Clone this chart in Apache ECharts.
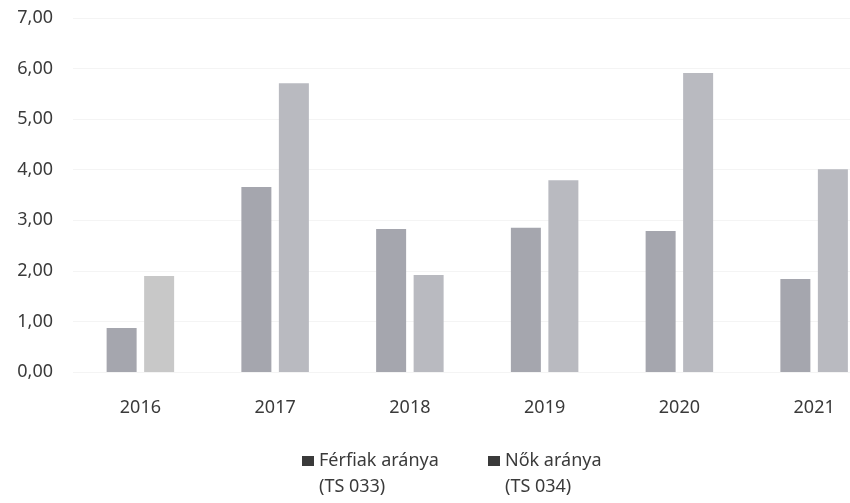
<!DOCTYPE html>
<html>
<head>
<meta charset="utf-8">
<script src="https://cdn.jsdelivr.net/npm/echarts@6/dist/echarts.min.js"></script>
<style>
  html, body { margin: 0; padding: 0; background: #fff; }
  #chart { width: 850px; height: 503px; }
</style>
</head>
<body>
<div id="chart"></div>
<script>
var years = ['2016', '2017', '2018', '2019', '2020', '2021'];
var ferfiak = [0.87, 3.66, 2.83, 2.85, 2.79, 1.84];
var nok = [1.90, 5.71, 1.92, 3.79, 5.91, 4.01];
var seriesNames = ['Férfiak aránya', 'Nők aránya'];
var seriesCodes = ['(TS 033)', '(TS 034)'];

var font = 'Noto Sans';

// square at the top of a taller box, so it sits beside the first text line
var topSquare = 'path://M0,0H12V10H0Z M0,36L0.001,36';

function legendFor(i, left) {
  return {
    left: left,
    top: 448,
    padding: 0,
    icon: topSquare,
    itemWidth: 12,
    itemHeight: 36,
    selectedMode: false,
    data: [{ name: seriesNames[i], itemStyle: { color: '#3a3a3a' } }],
    formatter: function (name) {
      return name + '\n' + seriesCodes[i];
    },
    textStyle: {
      fontFamily: font,
      fontSize: 18,
      lineHeight: 26,
      color: '#3a3a3a'
    }
  };
}

var chart = echarts.init(document.getElementById('chart'));
chart.setOption({
  animation: false,
  grid: { left: 73, top: 18, width: 808.5, height: 354, outerBoundsMode: 'none' },
  legend: [legendFor(0, 302), legendFor(1, 488)],
  xAxis: {
    type: 'category',
    data: years,
    axisLine: { show: false },
    axisTick: { show: false },
    axisLabel: {
      margin: 27,
      fontFamily: font,
      fontSize: 18,
      color: '#3a3a3a'
    }
  },
  yAxis: {
    type: 'value',
    min: 0,
    max: 7,
    interval: 1,
    axisLine: { show: false },
    axisTick: { show: false },
    splitLine: { lineStyle: { color: '#f4f4f4' } },
    axisLabel: {
      margin: 20,
      fontFamily: font,
      fontSize: 18,
      color: '#3a3a3a',
      formatter: function (v) { return v.toFixed(2).replace('.', ','); }
    }
  },
  series: [{
    name: seriesNames[0],
    type: 'bar',
    barWidth: 30,
    barGap: '25%',
    itemStyle: { color: '#a5a6ae' },
    data: ferfiak
  }, {
    name: seriesNames[1],
    type: 'bar',
    barWidth: 30,
    itemStyle: { color: '#b9bac0' },
    data: nok.map(function (v, i) {
      return i === 0 ? { value: v, itemStyle: { color: '#c8c8c8' } } : v;
    })
  }]
});
</script>
</body>
</html>
